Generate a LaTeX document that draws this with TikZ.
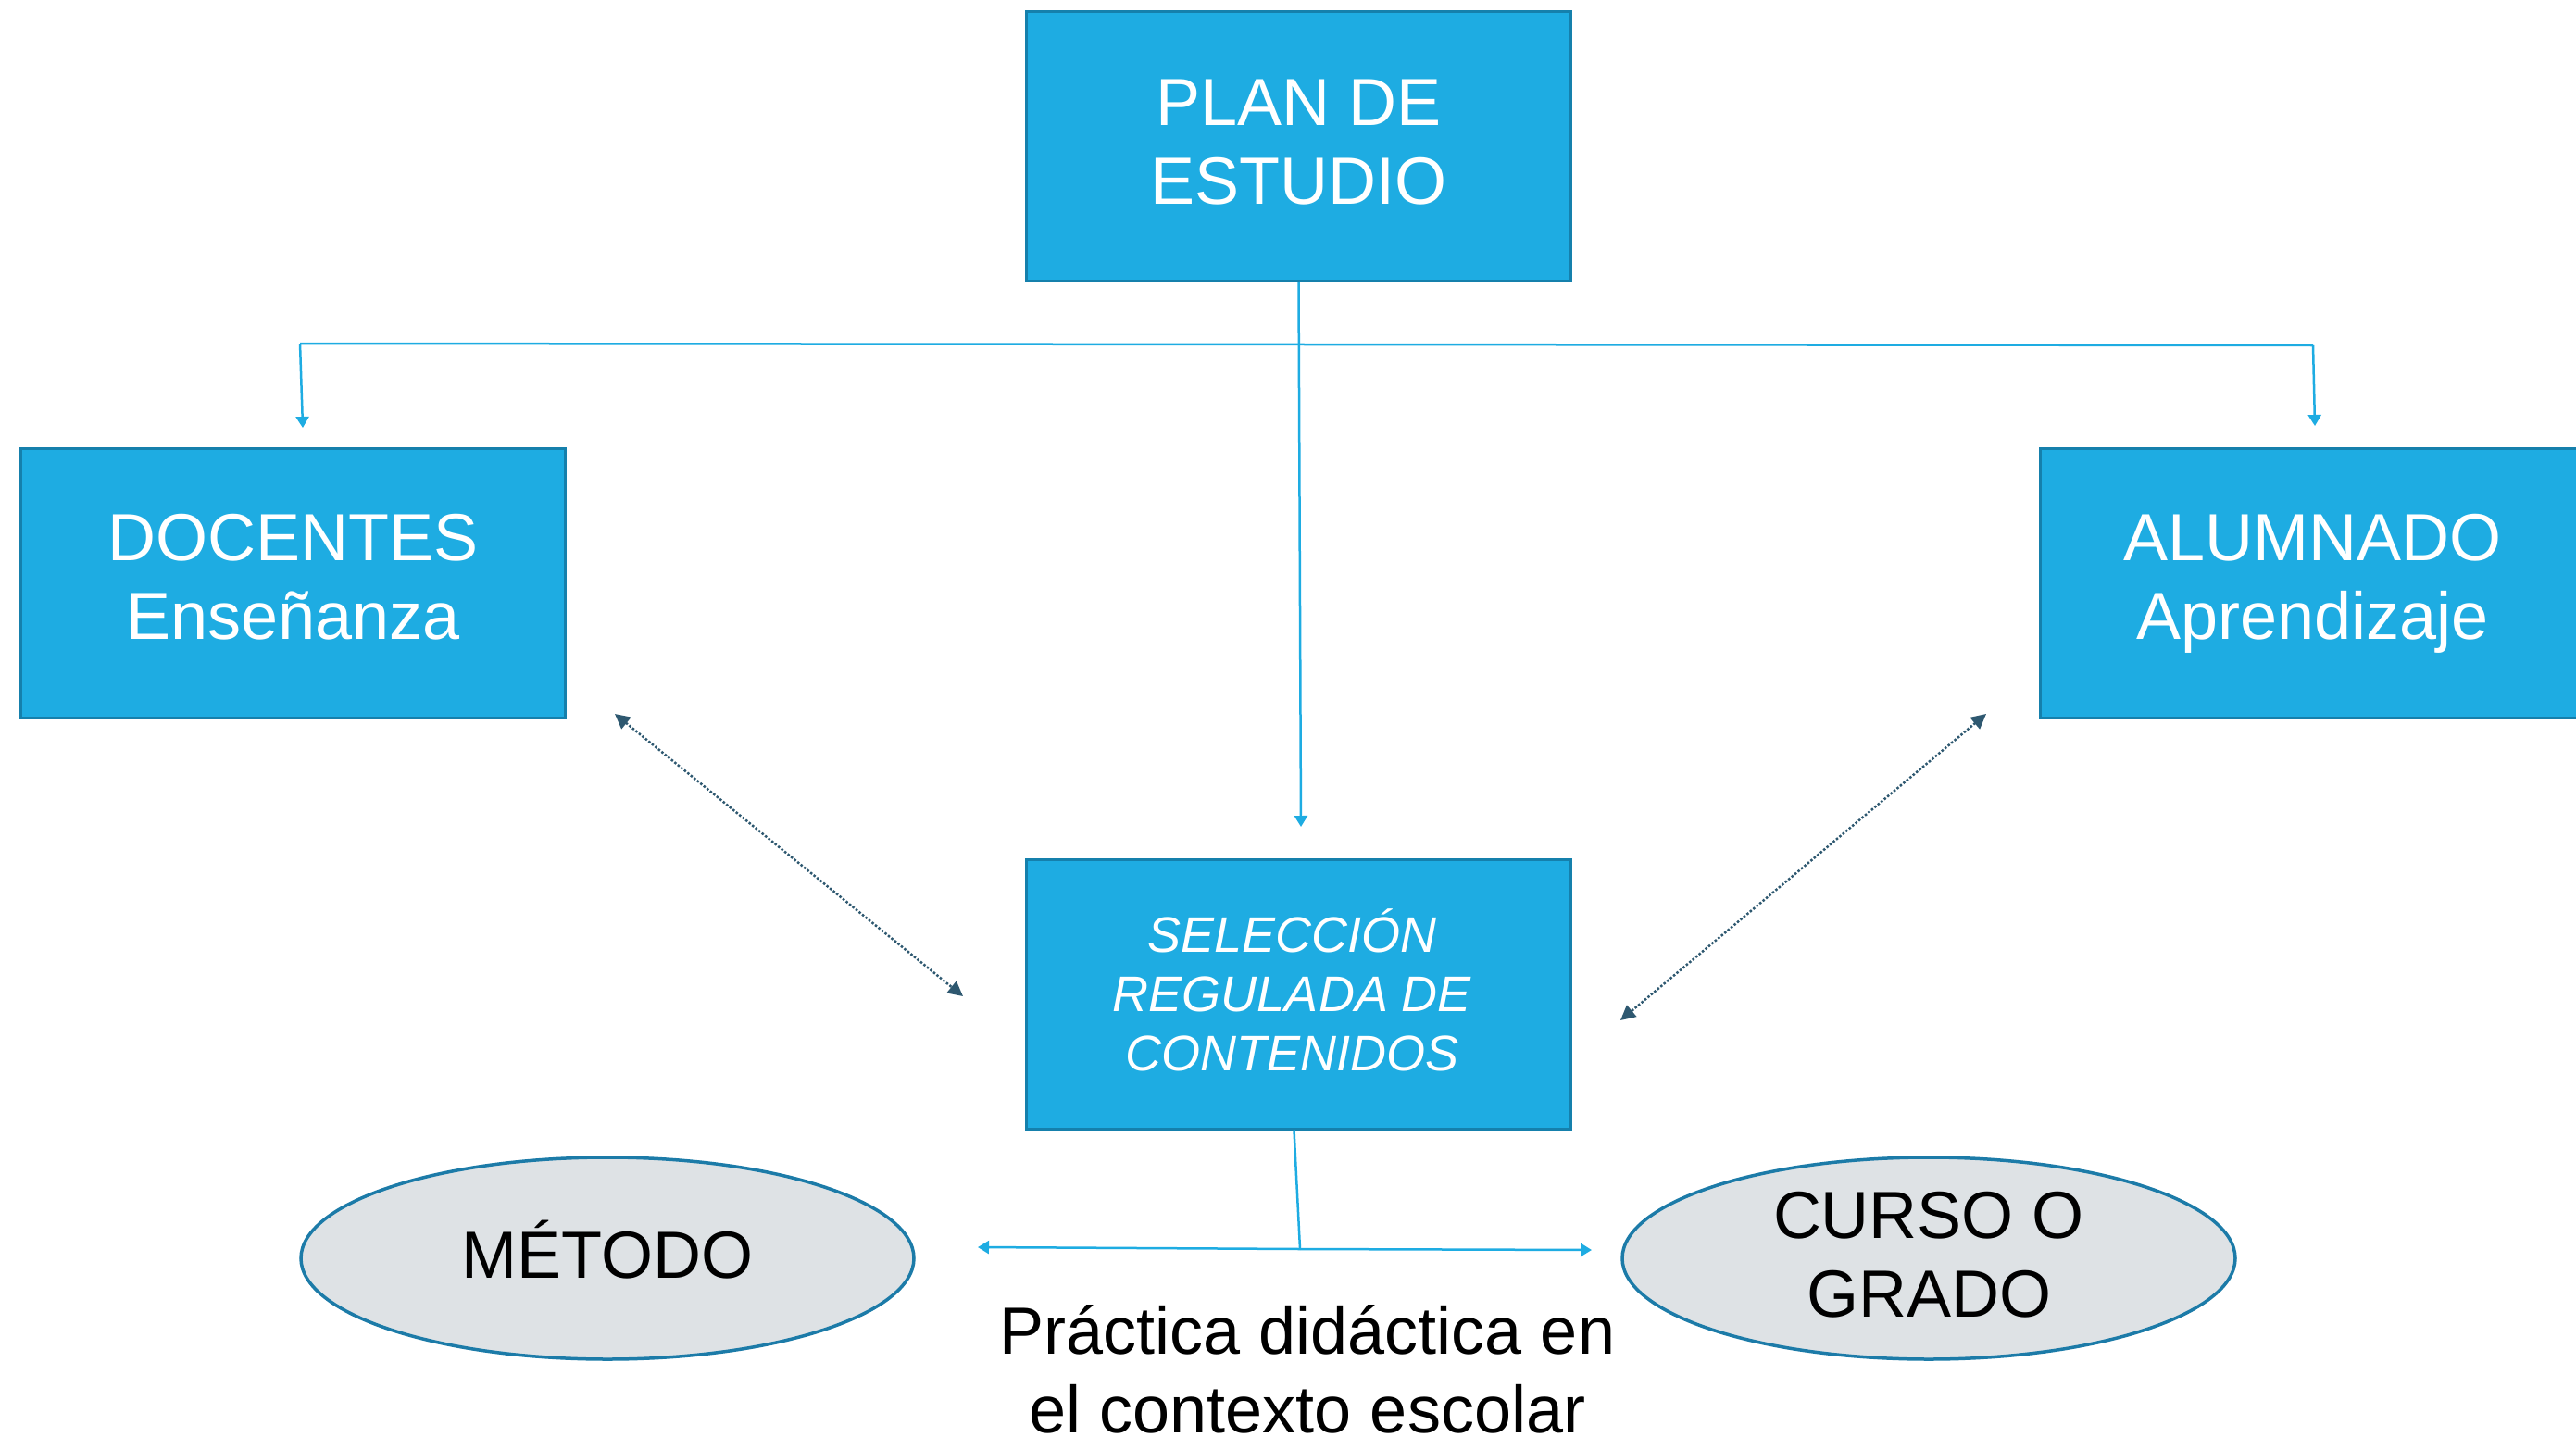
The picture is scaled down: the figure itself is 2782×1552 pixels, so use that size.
\documentclass[tikz,border=0pt]{standalone}
\usepackage{fontspec}
\setmainfont{Liberation Sans}
\usetikzlibrary{arrows.meta,shapes.geometric}
\definecolor{boxfill}{HTML}{1EACE2}
\definecolor{boxline}{HTML}{1580AC}
\definecolor{ellfill}{HTML}{DEE2E5}
\definecolor{ellline}{HTML}{1C7BA8}
\definecolor{lnblue}{HTML}{1EACE2}
\definecolor{dotcol}{HTML}{2E5870}
\tikzset{
  bluebox/.style={draw=boxline, fill=boxfill, line width=3pt, minimum width=588pt, minimum height=291pt, inner sep=0pt},
  grayell/.style={ellipse, draw=ellline, fill=ellfill, line width=3.5pt, minimum width=662pt, minimum height=218pt, inner sep=0pt},
  boxtxt/.style={inner sep=0pt, text=white, align=center},
  elltxt/.style={inner sep=0pt, text=black, align=center},
  bigtxt/.style={font=\fontsize{72}{85}\selectfont},
  conn/.style={draw=lnblue, line width=2.5pt},
  tipend/.style={-{Triangle[length=12pt,width=14pt]}},
  dotconn/.style={draw=dotcol, line width=2.5pt, dotted, {Triangle[length=16pt,width=16pt]}-{Triangle[length=16pt,width=16pt]}}
}
\begin{document}
\begin{tikzpicture}[x=1pt,y=-1pt]
\useasboundingbox (0,0) rectangle (2782,1552);
\fill[white] (0,0) rectangle (2782,1552);
% shapes
\node[bluebox] (plan) at (1402.5,158) {};
\node[bluebox] (doc) at (316.5,630) {};
\node[bluebox] (alu) at (2497.5,630) {};
\node[bluebox] (sel) at (1402.5,1073.5) {};
\node[grayell] (met) at (656,1359) {};
\node[grayell] (cur) at (2083,1359) {};
% texts
\node[boxtxt, bigtxt] (plantxt) at ([yshift=4pt]plan.center) {PLAN DE\\ESTUDIO};
\node[boxtxt, bigtxt] (doctxt) at ([yshift=7pt]doc.center) {DOCENTES\\Enseñanza};
\node[boxtxt, bigtxt] (alutxt) at (alu.center) {ALUMNADO\\Aprendizaje};
\node[boxtxt, font=\fontsize{54}{64}\selectfont\itshape] (seltxt) at ([xshift=-7pt,yshift=4pt]sel.center) {SELECCIÓN\\REGULADA DE\\CONTENIDOS};
\node[elltxt, bigtxt] (mettxt) at ([yshift=9pt]met.center) {MÉTODO};
\node[elltxt, bigtxt] (curtxt) at ([yshift=4pt]cur.center) {CURSO O\\GRADO};
\node[elltxt, bigtxt] (prac) at (1412,1479) {Práctica didáctica en\\el contexto escolar};
% coordinates
\coordinate (tl) at (324,371);
\coordinate (tr) at (2498,373);
\coordinate (tldown) at (327,462);
\coordinate (trdown) at (2500,460);
\coordinate (mid) at (1405,893);
\coordinate (bj) at (1404,1349);
\coordinate (bl) at (1056,1347);
\coordinate (br) at (1719,1350);
\coordinate (d1a) at (664,771);
\coordinate (d1b) at (1040,1076);
\coordinate (d2a) at (2145,771);
\coordinate (d2b) at (1750,1102);
% connectors
\draw[conn] (tl) -- (tr);
\draw[conn, tipend] (tl) -- (tldown);
\draw[conn, tipend] (tr) -- (trdown);
\draw[conn, tipend] (plan.south) -- (mid);
\draw[conn] ([xshift=-5pt]sel.south) -- (bj);
\draw[conn, tipend] (bj) -- (bl);
\draw[conn, tipend] (bj) -- (br);
\draw[dotconn] (d1a) -- (d1b);
\draw[dotconn] (d2a) -- (d2b);
\end{tikzpicture}
\end{document}
